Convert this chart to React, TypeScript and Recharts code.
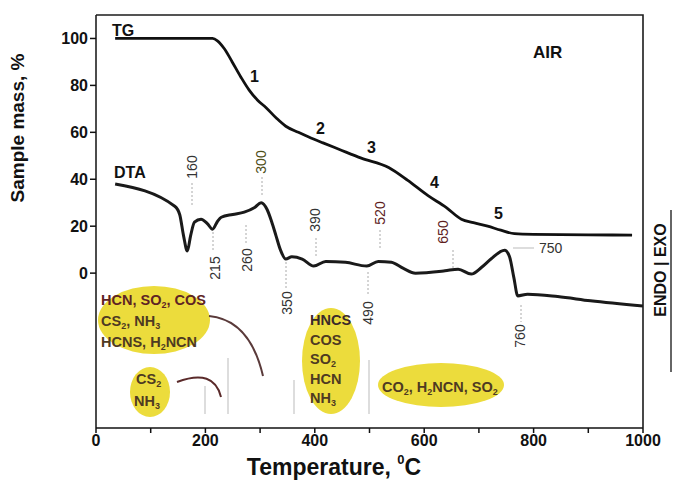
import { ComposedChart, Line, XAxis, YAxis } from 'recharts';

// TG curve (sample mass, %)
const tgTemp = [35, 213, 222, 235, 249, 265, 280, 295, 311, 330, 347, 370, 389, 415, 444, 485, 535, 570, 607, 640, 668, 690, 716, 740, 765, 800, 900, 980];
const tgMass = [100, 100, 99, 95.5, 90, 83.5, 78, 73.8, 70.5, 66, 62.6, 60, 58, 55.5, 52.8, 49, 45, 39.5, 33, 28, 23, 21.5, 20, 18.3, 16.8, 16.5, 16.3, 16.2];

// DTA curve (arbitrary units on the same axis)
const dtaTemp = [35, 144, 153, 160, 167, 173, 180, 192, 204, 213, 222, 229, 250, 271, 290, 302, 313, 321, 329, 337, 347, 358, 377, 398, 420, 456, 495, 516, 540, 562, 584, 638, 662, 686, 705, 722, 747, 756, 764, 771, 789, 844, 904, 1000];
const dtaVal = [38, 28.5, 25, 16, 9.4, 16, 21.7, 23, 21, 18.7, 22, 23.8, 25, 26, 28, 30, 27, 22, 16, 10, 6, 7, 6, 3, 5, 4.6, 3, 5, 4.6, 2, 0, 1, 1.7, -0.4, 2.5, 6, 9.8, 7, -2, -9.7, -9, -10, -11.8, -14];

const xTicks = [0, 100, 200, 300, 400, 500, 600, 700, 800, 900, 1000];
const yTicks = [0, 20, 40, 60, 80, 100];

const tgData = tgTemp.map((t, i) => ({ t, v: tgMass[i] }));
const dtaData = dtaTemp.map((t, i) => ({ t, v: dtaVal[i] }));

const font = '"Liberation Sans Narrow", "Liberation Sans", Arial, sans-serif';
const yellow = '#ecdc3c';
const chem = '#4e3a22';

const VLabel = ({ x, y, text, color = '#333' }: { x: number; y: number; text: string; color?: string }) => (
  <text transform={`translate(${x},${y}) rotate(-90)`} textAnchor="middle" dominantBaseline="central"
    fontSize={14} fill={color} fontFamily={font}>{text}</text>
);

const Guide = ({ x, y1, y2 }: { x: number; y1: number; y2: number }) => (
  <line x1={x} x2={x} y1={y1} y2={y2} stroke="#aaa" strokeWidth={1} strokeDasharray="2 2" />
);

const Sub = ({ c }: { c: string }) => (
  <tspan fontSize={9} dy={3}>{c}</tspan>
);

const App = () => {
  return (
    <div style={{ position: 'absolute', left: 0, top: 0, width: 673, height: 481, background: '#fff' }}>
      <ComposedChart width={673} height={481} margin={{ top: 15, right: 30, bottom: 23, left: 56 }}>
        <XAxis type="number" dataKey="t" domain={[0, 1000]} ticks={xTicks} allowDataOverflow
          height={30} tickSize={5} stroke="#111" strokeWidth={1.5}
          tickFormatter={(v: number) => (v % 200 === 0 ? String(v) : '')}
          tick={{ fill: '#111', fontSize: 16, fontWeight: 'bold', fontFamily: font }} />
        <YAxis type="number" dataKey="v" domain={[-66, 110]} ticks={yTicks} allowDataOverflow
          width={40} tickSize={6} stroke="#111" strokeWidth={1.5}
          tick={{ fill: '#111', fontSize: 16, fontWeight: 'bold', fontFamily: font }} />
        <Line data={tgData} dataKey="v" type="monotone" stroke="#111" strokeWidth={2.8} dot={false} isAnimationActive={false} />
        <Line data={dtaData} dataKey="v" type="monotone" stroke="#1a1a1a" strokeWidth={3} dot={false} isAnimationActive={false} />
      </ComposedChart>
      <svg width={673} height={481} style={{ position: 'absolute', left: 0, top: 0, pointerEvents: 'none', zIndex: 2 }}>
        <g fontFamily={font} fontWeight="bold" fill="#111">
          <text x={112} y={36} fontSize={16}>TG</text>
          <text x={114} y={178} fontSize={16}>DTA</text>
          <text x={533} y={58} fontSize={17}>AIR</text>
          <text x={250} y={82} fontSize={16}>1</text>
          <text x={316} y={134} fontSize={16}>2</text>
          <text x={367} y={153} fontSize={16}>3</text>
          <text x={430} y={188} fontSize={16}>4</text>
          <text x={494} y={219} fontSize={16}>5</text>
          <text transform="translate(24,128) rotate(-90)" textAnchor="middle" fontSize={19}>Sample mass, %</text>
          <text x={334} y={475} textAnchor="middle" fontSize={23}>
            Temperature, <tspan fontSize={13} dy={-11}>0</tspan><tspan dy={11}>C</tspan>
          </text>
          <text transform="translate(666,270) rotate(-90)" textAnchor="middle" fontSize={16}>ENDO | EXO</text>
        </g>
        <line x1={671} x2={671} y1={210} y2={372} stroke="#333" strokeWidth={1.5} />

        <Guide x={192} y1={183} y2={205} />
        <Guide x={262} y1={177} y2={197} />
        <Guide x={213} y1={232} y2={250} />
        <Guide x={246} y1={225} y2={245} />
        <Guide x={286} y1={262} y2={290} />
        <Guide x={316} y1={238} y2={258} />
        <Guide x={380} y1={230} y2={250} />
        <Guide x={368} y1={272} y2={295} />
        <Guide x={453} y1={250} y2={268} />
        <Guide x={521} y1={305} y2={322} />
        <line x1={513} x2={534} y1={248} y2={248} stroke="#bbb" strokeWidth={1} />

        <VLabel x={192} y={167} text="160" />
        <VLabel x={261} y={162} text="300" color="#4e4e18" />
        <VLabel x={215} y={268} text="215" />
        <VLabel x={247} y={260} text="260" />
        <VLabel x={287} y={303} text="350" />
        <VLabel x={315} y={220} text="390" />
        <VLabel x={380} y={213} text="520" color="#5e1e1e" />
        <VLabel x={368} y={313} text="490" />
        <VLabel x={443} y={232} text="650" color="#5e1e1e" />
        <VLabel x={520} y={336} text="760" />
        <text x={539} y={253} fontSize={14} fill="#333" fontFamily={font}>750</text>

        <line x1={205} x2={205} y1={386} y2={414} stroke="#bbb" strokeWidth={1} />
        <line x1={228} x2={228} y1={358} y2={414} stroke="#bbb" strokeWidth={1} />
        <line x1={294} x2={294} y1={380} y2={414} stroke="#bbb" strokeWidth={1} />
        <line x1={369} x2={369} y1={360} y2={414} stroke="#bbb" strokeWidth={1} />

        <ellipse cx={154} cy={320} rx={56} ry={34} fill={yellow} />
        <ellipse cx={150} cy={392} rx={20} ry={25} fill={yellow} />
        <ellipse cx={331} cy={361} rx={29} ry={53} fill={yellow} />
        <ellipse cx={441} cy={385} rx={63} ry={22} fill={yellow} />

        <path d="M209,316 Q250,320 263,376" fill="none" stroke="#5a3a3a" strokeWidth={2} />
        <path d="M177,382 Q214,368 221,397" fill="none" stroke="#5a2a2a" strokeWidth={2} />

        <g fontFamily={font} fontWeight="bold" fontSize={14.5} fill={chem}>
          <text x={101} y={305} fill="#5e2424">HCN, SO<Sub c="2" /><tspan dy={-3}>, COS</tspan></text>
          <text x={101} y={326}>CS<Sub c="2" /><tspan dy={-3}>, NH</tspan><Sub c="3" /></text>
          <text x={101} y={347}>HCNS, H<Sub c="2" /><tspan dy={-3}>NCN</tspan></text>
          <text x={136} y={384}>CS<Sub c="2" /></text>
          <text x={134} y={406}>NH<Sub c="3" /></text>
          <text x={310} y={325} fill="#3a2a2a">HNCS</text>
          <text x={310} y={345}>COS</text>
          <text x={310} y={364}>SO<Sub c="2" /></text>
          <text x={310} y={384}>HCN</text>
          <text x={310} y={403}>NH<Sub c="3" /></text>
          <text x={382} y={392}>CO<Sub c="2" /><tspan dy={-3}>, H</tspan><Sub c="2" /><tspan dy={-3}>NCN, SO</tspan><Sub c="2" /></text>
        </g>

        {/* frame: top and right edges of the plot area */}
        <path d="M96 15 L643 15 L643 428" fill="none" stroke="#1c1c1c" strokeWidth={1.6} />
      </svg>
    </div>
  );
};

export default App;
